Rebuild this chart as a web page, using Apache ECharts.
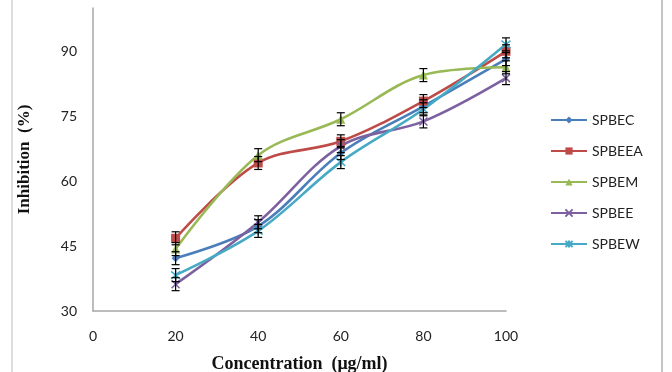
<!DOCTYPE html>
<html><head><meta charset="utf-8">
<script src="https://cdn.jsdelivr.net/npm/echarts@6/dist/echarts.min.js"></script>
<style>html,body{margin:0;padding:0;background:#fff}#c{width:672px;height:372px}</style>
</head><body><div id="c"></div>
<script>
const concentrations = [20, 40, 60, 80, 100];
const seriesNames = ['SPBEC', 'SPBEEA', 'SPBEM', 'SPBEE', 'SPBEW'];
const SPBEC  = [42.2, 49.6, 66.5, 77.3, 88.2];
const SPBEEA = [46.8, 64.2, 69.2, 78.5, 90.0];
const SPBEM  = [44.3, 66.0, 74.3, 84.5, 86.3];
const SPBEE  = [36.2, 50.5, 68.1, 73.8, 83.8];
const SPBEW  = [38.3, 48.5, 64.4, 76.6, 91.6];
const errors = [1.5, 1.5, 1.5, 1.5, 1.5];
const xTicks = [0, 20, 40, 60, 80, 100];
const yTicks = [30, 45, 60, 75, 90];

const values = [SPBEC, SPBEEA, SPBEM, SPBEE, SPBEW];
const colors = ['#4a7ebb', '#be4b48', '#98b954', '#7d60a0', '#46aac5'];
const symbols = [
  'diamond',
  'rect',
  'triangle',
  'path://M0,0L10,10M10,0L0,10',
  'path://M0,0L10,10M10,0L0,10M5,-1L5,11'
];
const symbolSizes = [8, 9, 9, 8, 9];

const chart = echarts.init(document.getElementById('c'));
const series = [];
values.forEach((vals, i) => {
  const isPath = symbols[i].startsWith('path');
  series.push({
    name: seriesNames[i],
    type: 'line',
    smooth: 0.35,
    data: concentrations.map((c, j) => [c, vals[j]]),
    symbol: symbols[i],
    symbolSize: symbolSizes[i],
    showAllSymbol: true,
    lineStyle: { color: colors[i], width: 2.6 },
    itemStyle: isPath ? { color: colors[i], borderColor: colors[i], borderWidth: 1.5 } : { color: colors[i] },
    z: 3
  });
});
const errData = [];
values.forEach((vals, i) => {
  concentrations.forEach((c, j) => errData.push([c, vals[j], errors[j]]));
});
series.push({
  type: 'custom',
  silent: true,
  z: 4,
  data: errData,
  renderItem: function (params, api) {
    const x = api.value(0), y = api.value(1), e = api.value(2);
    const top = api.coord([x, y + e]);
    const bot = api.coord([x, y - e]);
    const w = 4;
    const st = { stroke: '#000', lineWidth: 1.2 };
    return {
      type: 'group',
      children: [
        { type: 'line', shape: { x1: top[0], y1: top[1], x2: bot[0], y2: bot[1] }, style: st },
        { type: 'line', shape: { x1: top[0] - w, y1: top[1], x2: top[0] + w, y2: top[1] }, style: st },
        { type: 'line', shape: { x1: bot[0] - w, y1: bot[1], x2: bot[0] + w, y2: bot[1] }, style: st }
      ]
    };
  }
});

chart.setOption({
  animation: false,
  backgroundColor: '#fff',
  grid: { left: 93, right: 166, top: 8, bottom: 61, outerBoundsMode: 'none', containLabel: false },
  xAxis: {
    type: 'value', min: xTicks[0], max: xTicks[xTicks.length - 1], interval: 20,
    axisLine: { show: true, onZero: false, lineStyle: { color: '#a6a6a6', width: 1.5 } },
    axisTick: { show: false },
    splitLine: { show: false },
    axisLabel: { color: '#222', fontFamily: 'Lato', fontSize: 14, margin: 18 },
    name: 'Concentration  (μg/ml)', nameLocation: 'middle', nameGap: 44,
    nameTextStyle: { fontFamily: 'Liberation Serif', fontWeight: 'bold', fontSize: 18, color: '#111' }
  },
  yAxis: {
    type: 'value', min: yTicks[0], max: 100, interval: 15,
    axisLine: { show: true, onZero: false, lineStyle: { color: '#a6a6a6', width: 1.5 } },
    axisTick: { show: false },
    splitLine: { show: false },
    axisLabel: { color: '#222', fontFamily: 'Lato', fontSize: 14, margin: 16, showMaxLabel: false,
      formatter: v => (yTicks.indexOf(v) >= 0 ? String(v) : '') },
    name: 'Inhibition  (%)', nameLocation: 'middle', nameGap: 60, nameRotate: 90,
    nameTextStyle: { fontFamily: 'Liberation Serif', fontWeight: 'bold', fontSize: 17, color: '#111' }
  },
  legend: {
    orient: 'vertical', left: 545, top: 108, itemGap: 17,
    itemWidth: 36, itemHeight: 9,
    textStyle: { fontFamily: 'Lato', fontSize: 14, color: '#222' },
    data: seriesNames
  },
  graphic: [
    { type: 'line', shape: { x1: 12, y1: 0, x2: 12, y2: 372 }, style: { stroke: '#bbb', lineWidth: 1 } },
    { type: 'line', shape: { x1: 662, y1: 0, x2: 662, y2: 372 }, style: { stroke: '#888', lineWidth: 1 } }
  ],
  series: series
});
</script></body></html>
